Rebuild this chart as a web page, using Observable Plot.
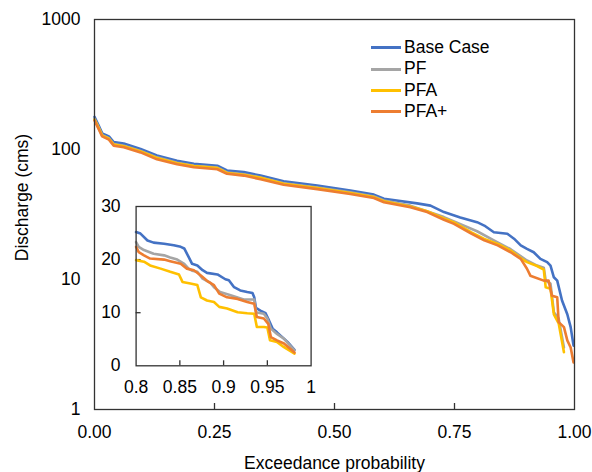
<!DOCTYPE html>
<html><head><meta charset="utf-8">
<script src="https://cdn.jsdelivr.net/npm/d3@7"></script>
<script src="https://cdn.jsdelivr.net/npm/@observablehq/plot@0.6"></script>
<style>
body{margin:0;background:#fff;}
#wrap{position:relative;width:592px;height:472px;font-family:"Liberation Sans",Arial,sans-serif;overflow:hidden;}
#main{position:absolute;left:0;top:0;}
#inset{position:absolute;left:95px;top:190px;}
.legend{position:absolute;left:371px;top:37px;font-size:17.5px;color:#000;line-height:21.4px;}
.legend .row{display:flex;align-items:center;height:21.4px;white-space:nowrap;}
.legend .sw{display:inline-block;width:30px;height:3px;margin-right:3px;}
</style></head><body>
<div id="wrap"><div id="main"></div><div id="inset"></div><div class="legend" id="legend"></div></div>
<script>
// ---- series names & colours ----
const seriesNames = ["Base Case", "PF", "PFA", "PFA+"];
const seriesColors = ["#4472C4", "#A5A5A5", "#FFC000", "#ED7D31"];

// ---- main chart (log y) ----
const baseP = [0,0.008,0.016,0.03,0.04,0.061,0.096,0.13,0.172,0.207,0.256,0.276,0.311,0.346,0.394,0.464,0.533,0.582,0.603,0.672,0.70,0.728,0.762,0.797,0.812,0.832,0.860,0.874,0.888,0.901,0.915,0.929,0.943,0.950,0.957,0.964,0.974,0.985,0.992,0.998];
const baseQ = [178,155,133,126,114,111,101,90,82,77.6,75,69,67,63,57,52.8,48.4,45,41.8,38.5,37,33,30,27.6,26,23.1,22.5,20.6,18.3,17.2,16.2,14.4,13.6,12.8,10.4,9.8,6.9,5.4,4.3,3.1];

const pfP = [0,0.008,0.016,0.03,0.04,0.061,0.096,0.13,0.172,0.207,0.256,0.276,0.311,0.346,0.394,0.464,0.533,0.582,0.603,0.658,0.728,0.797,0.832,0.867,0.901,0.922,0.936,0.940,0.950,0.957,0.967,0.978];
const pfQ = [172,150,129,122,110,107,97.5,87,79,75,72.5,66.5,64.5,61,55,51,46.8,43.5,40.5,37,30.2,23.5,20,17.1,14,12.8,12.3,9.8,9.3,5.6,5.0,3.0];

const pfaP = [0,0.008,0.016,0.03,0.04,0.061,0.096,0.13,0.172,0.207,0.256,0.276,0.311,0.346,0.394,0.464,0.533,0.582,0.603,0.658,0.693,0.728,0.749,0.785,0.812,0.840,0.867,0.888,0.901,0.922,0.936,0.940,0.950,0.957,0.967,0.978];
const pfaQ = [170,148,128,121,109,106,96.5,86,78.5,74.5,72,66,64,60.5,54.5,50.5,46.3,43,40,36.5,33.5,29.5,27.5,23,20.5,18.8,16.7,14.6,13.6,12.7,11.9,8.7,8.5,5.4,4.6,2.76];

const pfapP = [0,0.008,0.016,0.03,0.04,0.061,0.096,0.13,0.172,0.207,0.256,0.276,0.311,0.346,0.394,0.464,0.533,0.582,0.603,0.658,0.693,0.728,0.749,0.785,0.812,0.840,0.867,0.888,0.901,0.908,0.936,0.946,0.953,0.964,0.967,0.978,0.985,0.992,0.998];
const pfapQ = [167,145,126,119,107,104,95,84,77,73,70.5,65,63,59,53.5,49.6,45.5,42.3,39.3,36,33,28.8,26.8,22.5,20,18.3,16.2,14.4,12.1,10.7,9.8,9.8,7.5,7.3,4.7,4.3,3.4,3.0,2.3];

// ---- inset chart (linear y, 0.8–1) ----
const inBaseP = [0.8,0.805,0.813,0.82,0.832,0.843,0.851,0.855,0.86,0.864,0.87,0.876,0.881,0.893,0.902,0.906,0.912,0.919,0.927,0.933,0.935,0.937,0.942,0.948,0.952,0.956,0.961,0.967,0.973,0.981];
const inBaseQ = [25.2,24.9,23.6,23.2,23.0,22.7,22.4,22.1,20.5,19.2,18.9,18.0,17.5,17.2,16.3,16.1,14.8,14.2,13.9,13.7,12.9,10.9,10.4,9.9,8.5,7.0,6.3,5.4,4.5,3.0];
const inPfP = [0.8,0.803,0.809,0.82,0.832,0.839,0.847,0.855,0.86,0.864,0.87,0.876,0.885,0.889,0.896,0.908,0.923,0.935,0.937,0.946,0.95,0.954,0.961,0.969,0.976,0.981];
const inPfQ = [23.3,22.4,21.8,21.1,20.8,20.4,20.0,19.2,18.3,17.9,17.7,16.4,15.6,14.8,13.9,13.3,12.5,12.5,10.1,9.8,8.9,7.0,6.0,5.1,3.8,2.9];
const inPfaP = [0.8,0.809,0.816,0.828,0.839,0.849,0.853,0.862,0.870,0.874,0.881,0.889,0.895,0.904,0.916,0.927,0.935,0.938,0.946,0.950,0.953,0.961,0.969,0.976,0.981];
const inPfaQ = [19.9,19.6,18.9,18.3,17.7,17.2,15.8,15.5,15.2,12.9,12.3,12.0,11.1,10.8,10.1,9.9,9.8,7.3,7.3,7.2,4.8,4.5,3.5,2.8,2.3];
const inPfapP = [0.8,0.803,0.809,0.816,0.832,0.839,0.851,0.858,0.866,0.874,0.881,0.889,0.895,0.904,0.916,0.927,0.935,0.938,0.946,0.951,0.954,0.961,0.969,0.976,0.981];
const inPfapQ = [22.4,21.4,20.8,20.2,20.0,19.7,19.2,18.3,18.0,17.0,16.0,15.2,13.6,12.9,12.6,12.0,11.7,9.2,8.9,7.9,5.4,4.8,4.2,3.2,2.5];

// ---- ticks & labels ----
const mainXTicks = [0, 0.25, 0.5, 0.75, 1];
const mainYTicks = [1, 10, 100, 1000];
const insetXTicks = [0.8, 0.85, 0.9, 0.95, 1];
const insetYTicks = [0, 10, 20, 30];
const xTitle = "Exceedance probability";
const yTitle = "Discharge (cms)";

function rows(ps, qs, name) { return ps.map((p, i) => ({p, q: qs[i], s: name})); }
const mainData = [
  rows(baseP, baseQ, "Base Case"), rows(pfP, pfQ, "PF"),
  rows(pfaP, pfaQ, "PFA"), rows(pfapP, pfapQ, "PFA+")
];
const insetData = [
  rows(inBaseP, inBaseQ, "Base Case"), rows(inPfP, inPfQ, "PF"),
  rows(inPfaP, inPfaQ, "PFA"), rows(inPfapP, inPfapQ, "PFA+")
];

const FONT = "Liberation Sans, Arial, sans-serif";
const FS = 17.5;
const W = 592, H = 472, mL = 94, mR = 18, mT = 19, mB = 63;

const main = Plot.plot({
  width: W, height: H, marginLeft: mL, marginRight: mR, marginTop: mT, marginBottom: mB,
  style: {fontFamily: FONT, fontSize: FS + "px", color: "#000", background: "transparent", overflow: "visible"},
  x: {domain: [0, 1]},
  y: {type: "log", domain: [1, 1000]},
  color: {domain: seriesNames, range: seriesColors},
  marks: [
    Plot.axisY({ticks: mainYTicks, tickSize: 0, tickPadding: 14, tickFormat: d => String(d), label: null, fill: "#000"}),
    Plot.axisX({ticks: mainXTicks, tickSize: 0, tickPadding: 16, tickFormat: d3.format(".2f"), label: null, fill: "#000"}),
    Plot.ruleX(mainXTicks.slice(1, -1), {insetTop: H - mT - mB - 6, stroke: "#333", strokeWidth: 1.3}),
    ...mainData.map(d => Plot.line(d, {x: "p", y: "q", stroke: "s", strokeWidth: 2.6, strokeLinejoin: "round"})),
    Plot.frame({stroke: "#333", strokeWidth: 1.3}),
    Plot.text([xTitle], {frameAnchor: "bottom", dy: 54, lineAnchor: "middle", textAnchor: "middle", fontSize: FS, fill: "#000"}),
    Plot.text([yTitle], {frameAnchor: "left", dx: -72, dy: -17, rotate: -90, textAnchor: "middle", lineAnchor: "middle", fontSize: FS, fill: "#000"})
  ]
});
document.getElementById("main").appendChild(main);

const iW = 225, iH = 210, iL = 40.6, iR = 9.4, iT = 16, iB = 34.7;
const inset = Plot.plot({
  width: iW, height: iH, marginLeft: iL, marginRight: iR, marginTop: iT, marginBottom: iB,
  style: {fontFamily: FONT, fontSize: FS + "px", color: "#000", background: "transparent", overflow: "visible"},
  x: {domain: [0.8, 1]},
  y: {domain: [0, 30]},
  color: {domain: seriesNames, range: seriesColors},
  marks: [
    Plot.frame({fill: "white", stroke: "none"}),
    Plot.axisY({ticks: insetYTicks, tickSize: 0, tickPadding: 15.5, tickFormat: d => String(d), label: null, fill: "#000"}),
    Plot.axisX({ticks: insetXTicks, tickSize: 0, tickPadding: 15, tickFormat: d => String(d), label: null, fill: "#000"}),
    Plot.ruleX(insetXTicks.slice(1, -1), {insetTop: iH - iT - iB - 5, stroke: "#333", strokeWidth: 1.3}),
    Plot.ruleY(insetYTicks.slice(1, -1), {insetRight: iW - iL - iR - 5, stroke: "#333", strokeWidth: 1.3}),
    ...insetData.map(d => Plot.line(d, {x: "p", y: "q", stroke: "s", strokeWidth: 2.6, strokeLinejoin: "round"})),
    Plot.frame({stroke: "#333", strokeWidth: 1.3})
  ]
});
document.getElementById("inset").appendChild(inset);

const leg = document.getElementById("legend");
seriesNames.forEach((n, i) => {
  const r = document.createElement("div");
  r.className = "row";
  const sw = document.createElement("span");
  sw.className = "sw";
  sw.style.background = seriesColors[i];
  r.appendChild(sw);
  r.appendChild(document.createTextNode(n));
  leg.appendChild(r);
});
</script></body></html>
